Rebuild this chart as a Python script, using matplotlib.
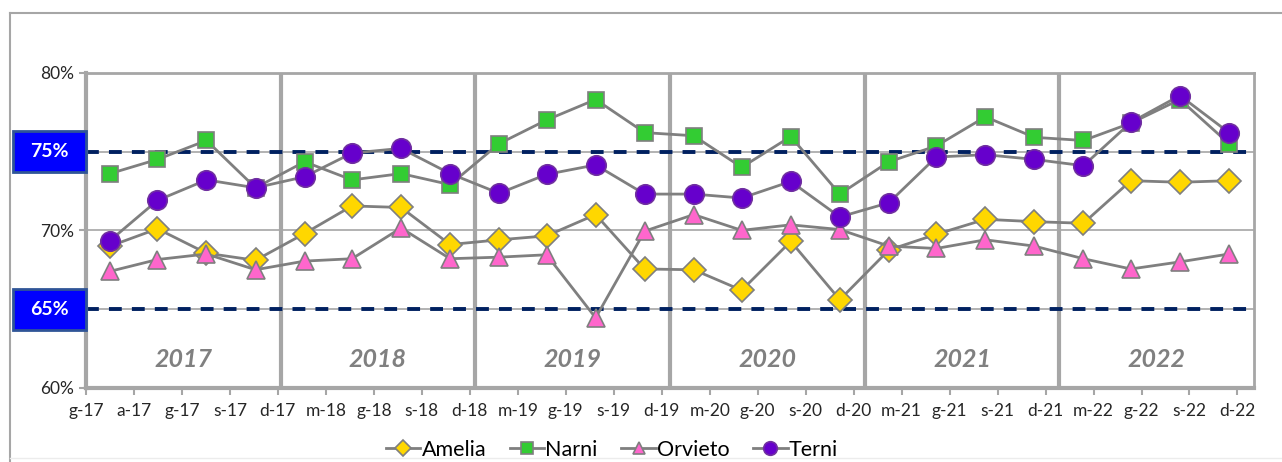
import numpy as np
import matplotlib.pyplot as plt
from matplotlib.lines import Line2D
from matplotlib.patches import Rectangle

plt.rcParams['font.family'] = ['Lato', 'DejaVu Sans']

# quarterly observations (mid-quarter dates)
dates = ['2017-02-15', '2017-05-15', '2017-08-15', '2017-11-15',
         '2018-02-15', '2018-05-15', '2018-08-15', '2018-11-15',
         '2019-02-15', '2019-05-15', '2019-08-15', '2019-11-15',
         '2020-02-15', '2020-05-15', '2020-08-15', '2020-11-15',
         '2021-02-15', '2021-05-15', '2021-08-15', '2021-11-15',
         '2022-02-15', '2022-05-15', '2022-08-15', '2022-11-15']

amelia = [69.0, 70.1, 68.55, 68.1, 69.8, 71.55, 71.45, 69.1,
          69.4, 69.65, 71.0, 67.55, 67.5, 66.2, 69.3, 65.6,
          68.75, 69.75, 70.7, 70.55, 70.45, 73.15, 73.05, 73.15]
narni = [73.6, 74.5, 75.7, 72.7, 74.35, 73.2, 73.6, 72.9,
         75.5, 77.0, 78.3, 76.2, 76.0, 74.0, 75.95, 72.3,
         74.35, 75.35, 77.2, 75.9, 75.7, 76.8, 78.3, 75.5]
orvieto = [67.4, 68.15, 68.5, 67.5, 68.05, 68.2, 70.15, 68.2,
           68.3, 68.45, 64.45, 69.95, 71.0, 70.0, 70.35, 70.05,
           69.0, 68.85, 69.4, 69.0, 68.2, 67.55, 68.0, 68.5]
terni = [69.35, 71.9, 73.2, 72.7, 73.4, 74.9, 75.2, 73.6,
         72.35, 73.55, 74.15, 72.3, 72.3, 72.05, 73.1, 70.85,
         71.75, 74.65, 74.8, 74.5, 74.1, 76.85, 78.55, 76.2]

years = ['2017', '2018', '2019', '2020', '2021', '2022']
thresholds = [75, 65]
month_initials = 'gfmamglasond'

base = np.datetime64('2017-01-01')
x = (np.array(dates, dtype='datetime64[D]') - base).astype(int)
x_end = (np.datetime64('2023-01-01') - base).astype(int)

fig = plt.figure(figsize=(12.82, 4.62), dpi=100)
ax = fig.add_axes([86 / 1282, 1 - 388 / 462, (1254 - 86) / 1282, (388 - 72.7) / 462])

grey = '#a6a6a6'
line_c = '#7f7f7f'

# horizontal gridlines
for v in [65, 70, 75]:
    ax.axhline(v, color=grey, lw=1.2, zorder=1)
for v in thresholds:
    ax.axhline(v, color='#002060', lw=2.8, dashes=(3.3, 2.6), zorder=2)

# year separators and labels
for i, yr in enumerate(years):
    start = (np.datetime64(f'{yr}-01-01') - base).astype(int)
    stop = (np.datetime64(f'{int(yr) + 1}-01-01') - base).astype(int)
    if i > 0:
        ax.axvline(start, color=grey, lw=3, zorder=1)
    ax.text((start + stop) / 2, 61.8, yr, ha='center', va='center',
            fontsize=18, fontweight='bold', style='italic', color='#808080')

series = [
    ('Amelia', amelia, 'D', '#ffd700', 12),
    ('Narni', narni, 's', '#33cc33', 11.5),
    ('Orvieto', orvieto, '^', '#ff66cc', 13),
    ('Terni', terni, 'o', '#6600cc', 14),
]
for name, vals, m, c, ms in series:
    ax.plot(x, vals, color=line_c, lw=2, marker=m, markersize=ms,
            markerfacecolor=c, markeredgecolor='#7f7f7f' if name != 'Terni' else '#7030a0',
            markeredgewidth=1.2, label=name, zorder=3)

ax.set_xlim(0, x_end)
ax.set_ylim(60, 80)

ticks = np.arange(0, x_end, 90)
labels = []
for t in ticks:
    d = (base + np.timedelta64(int(t), 'D')).astype(object)
    labels.append(f'{month_initials[d.month - 1]}-{d.year % 100:02d}')
ax.set_xticks(ticks)
ax.set_xticklabels(labels)
ax.set_yticks([60, 70, 80])
ax.set_yticklabels(['60%', '70%', '80%'])
ax.tick_params(axis='both', colors=grey, labelcolor='#262626', labelsize=12.5,
               length=5, width=1.5)
ax.tick_params(axis='x', pad=6)

for side in ['left', 'bottom']:
    ax.spines[side].set_color(grey)
    ax.spines[side].set_linewidth(3)
for side in ['top', 'right']:
    ax.spines[side].set_color(grey)
    ax.spines[side].set_linewidth(2)

# blue boxes for threshold labels
for v in thresholds:
    yc = 1 - (72.7 + (80 - v) * 15.77) / 462
    h = 41 / 462
    fig.patches.append(Rectangle((13 / 1282, yc - h / 2), 73 / 1282, h,
                                 transform=fig.transFigure, facecolor='#0000ff',
                                 edgecolor='#2f5597', lw=2, zorder=5))
    fig.text(49 / 1282, yc, f'{v}%', ha='center', va='center', color='white',
             fontsize=14, fontweight='bold', zorder=6)

# outer chart border
fig.add_artist(Line2D([10 / 1282, 1], [1 - 13 / 462, 1 - 13 / 462], color=grey, lw=1.5))
fig.add_artist(Line2D([10 / 1282, 10 / 1282], [0, 1 - 13 / 462], color=grey, lw=1.5))
fig.add_artist(Line2D([10 / 1282, 1], [4 / 462, 4 / 462], color='#ececec', lw=1))

leg = fig.legend(loc='center', bbox_to_anchor=(612 / 1282, 1 - 450 / 462), ncol=4,
                 frameon=False, fontsize=15.5, handlelength=1.6, columnspacing=1.1,
                 handletextpad=0.05, markerscale=0.7)

fig.savefig('out.png', dpi=100)
